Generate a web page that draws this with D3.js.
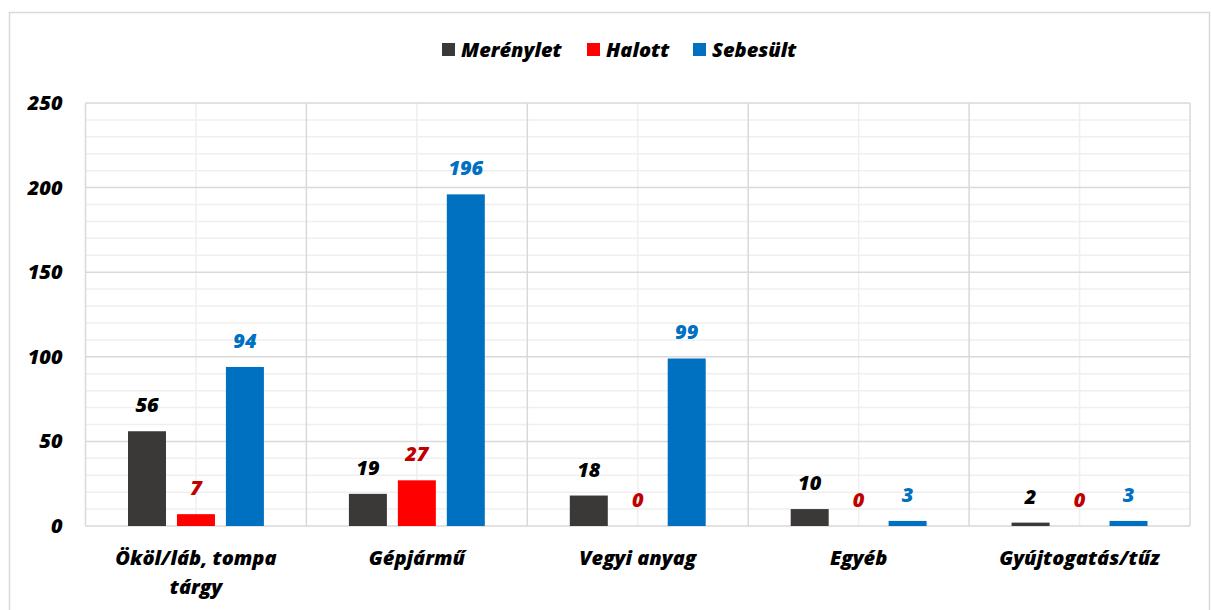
<!DOCTYPE html>
<html>
<head>
<meta charset="utf-8">
<script src="https://cdn.jsdelivr.net/npm/d3@7"></script>
<style>
  body { margin: 0; background: #fff; }
  svg text { font-family: "Open Sans", Lato, sans-serif; font-weight: 800; font-style: italic; }
</style>
</head>
<body>
<div id="chart"></div>
<script>
// chart data
const categories = ["Ököl/láb, tompa tárgy", "Gépjármű", "Vegyi anyag", "Egyéb", "Gyújtogatás/tűz"];
const seriesNames = ["Merénylet", "Halott", "Sebesült"];
const merenylet = [56, 19, 18, 10, 2];
const halott = [7, 27, 0, 0, 0];
const sebesult = [94, 196, 99, 3, 3];
const yTicks = [0, 50, 100, 150, 200, 250];

const barColors = ["#3b3938", "#ff0000", "#0070c0"];
const labelColors = ["#000000", "#c00000", "#0070c0"];
const fontSize = 20;

const width = 1211, height = 610;
const margin = { top: 103, right: 21, bottom: 84, left: 85.5 };
const chartWidth = width - margin.left - margin.right;
const chartHeight = height - margin.top - margin.bottom;

const svg = d3.select("#chart")
  .append("svg")
  .attr("width", width)
  .attr("height", height);

// outer frame
svg.append("rect")
  .attr("x", 9.5).attr("y", 12.5)
  .attr("width", 1200).attr("height", 620)
  .attr("fill", "none")
  .attr("stroke", "#d9d9d9")
  .attr("stroke-width", 1.5);

const g = svg.append("g")
  .attr("transform", `translate(${margin.left},${margin.top})`);

const x0 = d3.scaleBand().domain(categories).range([0, chartWidth]).paddingInner(0).paddingOuter(0);
const x1 = d3.scaleBand().domain(seriesNames).range([42.5, x0.bandwidth() - 42.5]).paddingInner(0.224).paddingOuter(0);
const y = d3.scaleLinear().domain([0, 250]).range([chartHeight, 0]);

// minor horizontal gridlines every 10
g.append("g")
  .selectAll("line")
  .data(d3.range(10, 250, 10).filter(v => v % 50 !== 0))
  .join("line")
  .attr("x1", 0).attr("x2", chartWidth)
  .attr("y1", d => y(d)).attr("y2", d => y(d))
  .attr("stroke", "#efefef").attr("stroke-width", 1.5);

// minor vertical gridlines at category centers
g.append("g")
  .selectAll("line")
  .data(categories)
  .join("line")
  .attr("x1", d => x0(d) + x0.bandwidth() / 2).attr("x2", d => x0(d) + x0.bandwidth() / 2)
  .attr("y1", 0).attr("y2", chartHeight)
  .attr("stroke", "#efefef").attr("stroke-width", 1.5);

// major horizontal gridlines
g.append("g")
  .selectAll("line")
  .data(yTicks)
  .join("line")
  .attr("x1", 0).attr("x2", chartWidth)
  .attr("y1", d => y(d)).attr("y2", d => y(d))
  .attr("stroke", "#d9d9d9").attr("stroke-width", 1.5);

// major vertical gridlines at category boundaries
g.append("g")
  .selectAll("line")
  .data(categories.map(c => x0(c)).concat([chartWidth]))
  .join("line")
  .attr("x1", d => d).attr("x2", d => d)
  .attr("y1", 0).attr("y2", chartHeight)
  .attr("stroke", "#d9d9d9").attr("stroke-width", 1.5);

// y axis labels
const yAxis = g.append("g")
  .call(d3.axisLeft(y).tickValues(yTicks).tickSize(0).tickPadding(23));
yAxis.select(".domain").remove();
yAxis.selectAll("text")
  .attr("font-size", fontSize)
  .attr("fill", "#000")
  .style("font-family", "'Open Sans', sans-serif");

// bars
const allSeries = [merenylet, halott, sebesult];
seriesNames.forEach((name, si) => {
  const grp = g.append("g");
  grp.selectAll("rect")
    .data(allSeries[si])
    .join("rect")
    .attr("x", (d, i) => x0(categories[i]) + x1(name))
    .attr("y", d => y(d))
    .attr("width", x1.bandwidth())
    .attr("height", d => chartHeight - y(d))
    .attr("fill", barColors[si]);

  grp.selectAll("text")
    .data(allSeries[si])
    .join("text")
    .attr("x", (d, i) => x0(categories[i]) + x1(name) + x1.bandwidth() / 2)
    .attr("y", d => y(d) - 19)
    .attr("text-anchor", "middle")
    .attr("font-size", fontSize)
    .attr("fill", labelColors[si])
    .text(d => d);
});

// category labels (wrapped like the original)
const catLines = {
  "Ököl/láb, tompa tárgy": ["Ököl/láb, tompa", "tárgy"]
};
const xLabels = g.append("g");
categories.forEach(c => {
  const lines = catLines[c] || [c];
  const t = xLabels.append("text")
    .attr("x", x0(c) + x0.bandwidth() / 2)
    .attr("y", chartHeight + 39)
    .attr("text-anchor", "middle")
    .attr("font-size", fontSize)
    .attr("fill", "#000");
  lines.forEach((ln, li) => {
    t.append("tspan")
      .attr("x", x0(c) + x0.bandwidth() / 2)
      .attr("dy", li === 0 ? 0 : 29)
      .text(ln);
  });
});

// legend
const legendX = [442, 587, 693];
const legend = svg.append("g");
seriesNames.forEach((name, i) => {
  legend.append("rect")
    .attr("x", legendX[i]).attr("y", 43)
    .attr("width", 13).attr("height", 13)
    .attr("fill", barColors[i]);
  legend.append("text")
    .attr("x", legendX[i] + 19).attr("y", 57)
    .attr("font-size", fontSize)
    .attr("fill", "#000")
    .text(name);
});
</script>
</body>
</html>
